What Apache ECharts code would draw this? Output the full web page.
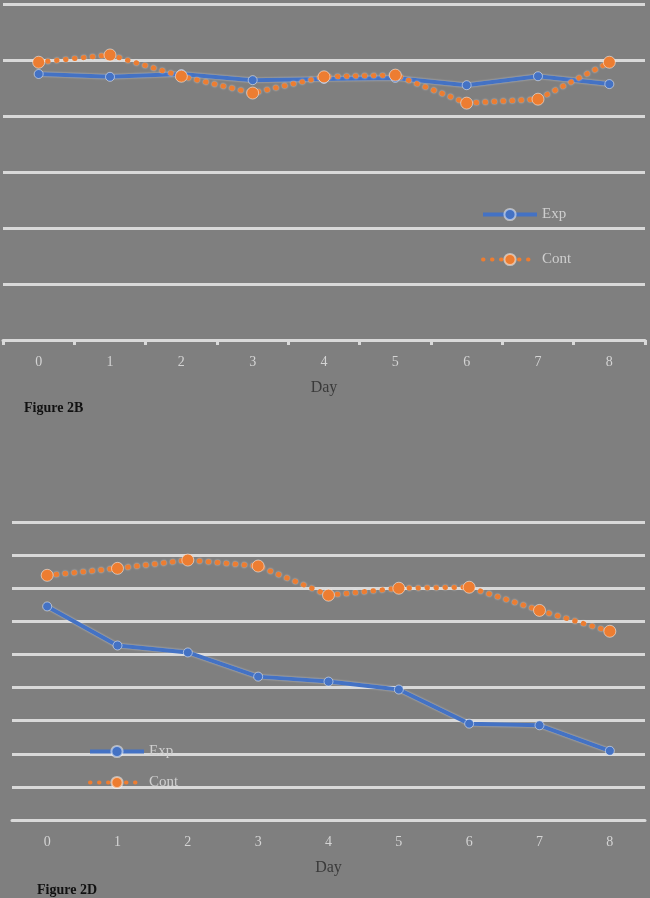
<!DOCTYPE html>
<html>
<head>
    <meta charset="utf-8">
    <script src="https://cdn.jsdelivr.net/npm/echarts@6/dist/echarts.min.js"></script>
    <style>
        html, body { margin: 0; padding: 0; background: #7f7f7f; }
    </style>
</head>
<body>
<div id="main" style="width:650px;height:898px"></div>
<script>
    // days on the x axis
    var days = ['0', '1', '2', '3', '4', '5', '6', '7', '8'];

    // Figure 2B (values in gridline units, axis labels not shown)
    var expB  = [4.75, 4.70, 4.75, 4.64, 4.66, 4.68, 4.55, 4.71, 4.57];
    var contB = [4.96, 5.09, 4.71, 4.41, 4.70, 4.73, 4.23, 4.30, 4.96];

    // Figure 2D
    var expD  = [6.45, 5.27, 5.06, 4.33, 4.18, 3.94, 2.91, 2.86, 2.09];
    var contD = [7.39, 7.60, 7.85, 7.67, 6.79, 7.00, 7.03, 6.33, 5.70];

    var gridColor = '#d9d9d9';
    var blue = '#4472c4';
    var orange = '#ed7d31';
    var serif = '"Liberation Serif", "DejaVu Serif", serif';

    var myChart = echarts.init(document.getElementById('main'));

    function xAxisFor(idx, ticks) {
        return {
            type: 'category',
            gridIndex: idx,
            data: days,
            boundaryGap: true,
            axisLine: { show: true, lineStyle: { color: gridColor, width: 3 } },
            axisTick: { show: ticks, length: 5, lineStyle: { color: gridColor, width: 3 } },
            axisLabel: { color: '#d4d4d4', fontFamily: serif, fontSize: 14, margin: 15 },
            name: 'Day',
            nameLocation: 'middle',
            nameGap: 40,
            nameTextStyle: { color: '#3a3a3a', fontFamily: serif, fontSize: 16 }
        };
    }

    function yAxisFor(idx, max) {
        return {
            type: 'value',
            gridIndex: idx,
            min: 0,
            max: max,
            interval: 1,
            axisLine: { show: false },
            axisTick: { show: false },
            axisLabel: { show: false },
            splitLine: { lineStyle: { color: gridColor, width: 3 } }
        };
    }

    function expSeries(idx, data) {
        return {
            name: 'Exp',
            type: 'line',
            xAxisIndex: idx,
            yAxisIndex: idx,
            data: data,
            symbol: 'circle',
            symbolSize: 9,
            itemStyle: { color: blue, borderColor: 'rgba(255,255,255,0.5)', borderWidth: 1 },
            lineStyle: { color: blue, width: 4, shadowColor: 'rgba(255,255,255,0.6)', shadowBlur: 2 }
        };
    }

    function contSeries(idx, data) {
        return {
            name: 'Cont',
            type: 'line',
            xAxisIndex: idx,
            yAxisIndex: idx,
            data: data,
            symbol: 'circle',
            symbolSize: 12,
            itemStyle: { color: orange, borderColor: 'rgba(255,255,255,0.5)', borderWidth: 1 },
            lineStyle: { color: orange, width: 5, type: [0.5, 8.5], cap: 'round',
                shadowColor: 'rgba(255,255,255,0.6)', shadowBlur: 2 }
        };
    }

    var legendText = { color: '#cfcfcf', fontFamily: serif, fontSize: 15 };

    var option = {
        backgroundColor: '#7f7f7f',
        animation: false,
        title: [
            { text: 'Figure 2B', left: 19, top: 396,
              textStyle: { color: '#111', fontFamily: serif, fontSize: 14, fontWeight: 'bold' } },
            { text: 'Figure 2D', left: 32, top: 878,
              textStyle: { color: '#111', fontFamily: serif, fontSize: 14, fontWeight: 'bold' } }
        ],
        legend: [
            {
                data: ['Exp', 'Cont'],
                orient: 'vertical',
                left: 476,
                top: 202,
                itemWidth: 54,
                itemHeight: 14,
                itemGap: 30,
                lineStyle: { width: 4 },
                textStyle: legendText
            },
            {
                data: ['Exp', 'Cont'],
                orient: 'vertical',
                left: 83,
                top: 739,
                itemWidth: 54,
                itemHeight: 14,
                itemGap: 16,
                lineStyle: { width: 4 },
                textStyle: legendText
            }
        ],
        grid: [
            { left: 3, right: 5, top: 4, height: 336 },
            { left: 12, right: 5, top: 522, height: 298 }
        ],
        xAxis: [xAxisFor(0, true), xAxisFor(1, false)],
        yAxis: [yAxisFor(0, 6), yAxisFor(1, 9)],
        series: [
            expSeries(0, expB),
            contSeries(0, contB),
            expSeries(1, expD),
            contSeries(1, contD)
        ]
    };
    myChart.setOption(option);
</script>
</body>
</html>
